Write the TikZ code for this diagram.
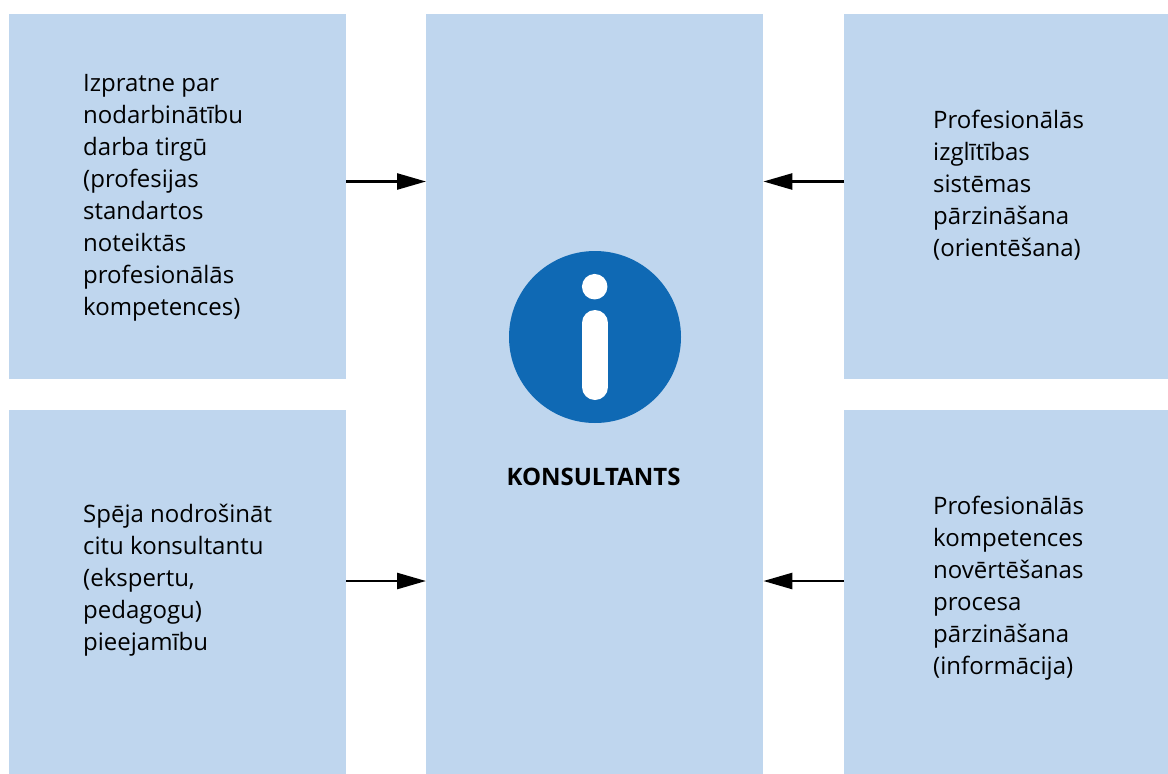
\documentclass[tikz,border=0pt]{standalone}
\usepackage{fontspec}
\setmainfont{Open Sans}
\usetikzlibrary{arrows.meta}
\definecolor{boxblue}{HTML}{BFD6EE}
\definecolor{iconblue}{HTML}{0F69B4}
\tikzset{
  panel/.style={fill=boxblue,draw=none,inner sep=0pt,anchor=north west},
  label/.style={align=left,anchor=west,inner sep=0pt,font=\fontsize{24}{32}\selectfont},
  conn/.style={line width=2.6pt,-{Triangle[length=29pt,width=16pt]},shorten >=0pt}
}
\begin{document}
\begin{tikzpicture}[x=1pt,y=-1pt]
\useasboundingbox (0,0) rectangle (1168,774);
\node[panel,minimum width=337pt,minimum height=365pt] (tl) at (9,14) {};
\node[panel,minimum width=337pt,minimum height=364pt] (bl) at (9,410) {};
\node[panel,minimum width=337pt,minimum height=760pt] (c) at (426,14) {};
\node[panel,minimum width=324pt,minimum height=365pt] (tr) at (844,14) {};
\node[panel,minimum width=324pt,minimum height=364pt] (br) at (844,410) {};
\coordinate (ytop) at (0,181.5);
\coordinate (ybot) at (0,581);
\draw[conn] (tl.east |- ytop) -- (c.west |- ytop);
\draw[conn] (bl.east |- ybot) -- (c.west |- ybot);
\draw[conn] (tr.west |- ytop) -- (c.east |- ytop);
\draw[conn] (br.west |- ybot) -- (c.east |- ybot);
\node[circle,fill=iconblue,minimum size=172pt,inner sep=0pt] (icon) at (595,337) {};
\node[circle,fill=white,minimum size=25.5pt,inner sep=0pt] (dot) at (594.7,286.7) {};
\draw[white,line width=26pt,line cap=round] (595,323) -- (595,387);
\node[inner sep=0pt,font=\fontsize{24}{32}\selectfont\bfseries] (title) at (593.5,476.7) {KONSULTANTS};
\node[label] (t1) at (83,198) {Izpratne par\\nodarbinātību\\darba tirgū\\(profesijas\\standartos\\noteiktās\\profesionālās\\kompetences)};
\node[label] (t2) at (83,580) {Spēja nodrošināt\\citu konsultantu\\(ekspertu,\\pedagogu)\\pieejamību};
\node[label] (t3) at (933,185) {Profesionālās\\izglītības\\sistēmas\\pārzināšana\\(orientēšana)};
\node[label] (t4) at (933,588) {Profesionālās\\kompetences\\novērtēšanas\\procesa\\pārzināšana\\(informācija)};
\end{tikzpicture}
\end{document}
